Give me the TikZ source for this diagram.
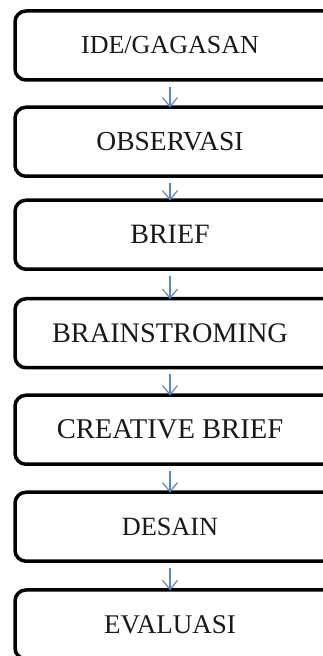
\documentclass[tikz,border=0pt]{standalone}
\usepackage{fontspec}
\setmainfont{Liberation Serif}
\usetikzlibrary{arrows.meta}
\definecolor{arrowblue}{RGB}{84,136,200}
\definecolor{txt}{RGB}{25,25,25}
\begin{document}
\begin{tikzpicture}[x=1pt,y=1pt,
  stagebox/.style={draw=black, line width=3.5pt, rounded corners=11pt,
    minimum width=322pt, minimum height=69pt, inner sep=0pt, text=txt},
  flow/.style={draw=arrowblue, line width=1.2pt,
    -{Straight Barb[length=9pt,width=15pt,line width=1.2pt]},
    shorten <=5pt, shorten >=-2pt}]
\useasboundingbox (0,0) rectangle (323,656);
\node[stagebox, label={[xshift=-6pt,text=txt,font=\fontsize{26}{30}\selectfont]center:IDE/GAGASAN}] (b1) at (176,{656-45.5}) {};
\node[stagebox, label={[xshift=-6pt,text=txt,font=\fontsize{27.5}{32}\selectfont]center:OBSERVASI}] (b2) at (176,{656-141.75}) {};
\node[stagebox, label={[xshift=-6pt,text=txt,font=\fontsize{28}{32}\selectfont]center:BRIEF}] (b3) at (176,{656-234.75}) {};
\node[stagebox, label={[xshift=-6pt,text=txt,font=\fontsize{28.3}{32}\selectfont]center:BRAINSTROMING}] (b4) at (176,{656-333.25}) {};
\node[stagebox, label={[xshift=-6pt,text=txt,font=\fontsize{28.6}{32}\selectfont]center:CREATIVE BRIEF}] (b5) at (176,{656-429.75}) {};
\node[stagebox, label={[xshift=-6pt,text=txt,font=\fontsize{26.3}{30}\selectfont]center:DESAIN}] (b6) at (176,{656-526.75}) {};
\node[stagebox, label={[xshift=-6pt,text=txt,font=\fontsize{27}{30}\selectfont]center:EVALUASI}] (b7) at (176,{656-624.5}) {};
\draw[flow] ([xshift=-6pt]b1.south) -- ([xshift=-6pt]b2.north);
\draw[flow] ([xshift=-6pt]b2.south) -- ([xshift=-6pt]b3.north);
\draw[flow] ([xshift=-6pt]b3.south) -- ([xshift=-6pt]b4.north);
\draw[flow] ([xshift=-6pt]b4.south) -- ([xshift=-6pt]b5.north);
\draw[flow] ([xshift=-6pt]b5.south) -- ([xshift=-6pt]b6.north);
\draw[flow] ([xshift=-6pt]b6.south) -- ([xshift=-6pt]b7.north);
\end{tikzpicture}
\end{document}
